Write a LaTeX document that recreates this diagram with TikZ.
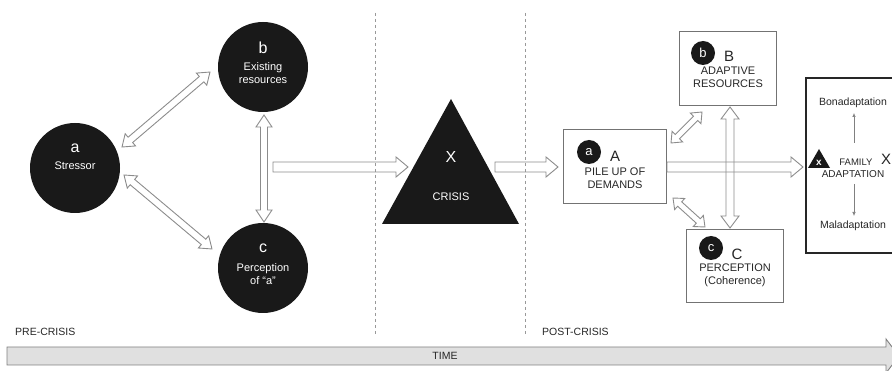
\documentclass[tikz,border=0pt]{standalone}
\usepackage{fontspec}
\setmainfont{Liberation Sans}
\usetikzlibrary{calc,arrows.meta}
\tikzset{
  bigcirc/.style={circle, fill=black!90, minimum size=90pt, inner sep=0pt},
  smallcirc/.style={circle, fill=black!90, minimum size=24pt, inner sep=0pt, text=white, font=\fontsize{13}{13}\selectfont},
  wtext/.style={text=white, font=\fontsize{11}{13}\selectfont, align=center, inner sep=0pt},
  btext/.style={text=black!85, font=\fontsize{11}{13}\selectfont, align=center, inner sep=0pt},
  smalltext/.style={text=black!85, font=\fontsize{10.5}{12}\selectfont, align=center, inner sep=0pt},
  bigletter/.style={font=\fontsize{16}{16}\selectfont, inner sep=0pt},
  midletter/.style={text=black!85, font=\fontsize{15}{15}\selectfont, inner sep=0pt},
  boxnode/.style={draw=black!55, line width=1pt, inner sep=0pt},
  blk/.style={draw=black!45, line width=0.9pt, line join=miter},
  dashline/.style={draw=black!40, line width=0.8pt, dash pattern=on 3.5pt off 2.5pt},
  thinarr/.style={draw=black!50, line width=0.6pt, -{Latex[length=4pt,width=3.5pt]}},
}
\newcommand\dblarr[5]{%
  \draw[blk] let \p1=(#1), \p2=(#2), \n1={atan2(\y2-\y1,\x2-\x1)}, \n2={veclen(\x2-\x1,\y2-\y1)} in
    [shift={(\p1)}, rotate=\n1]
    (0,0) -- (#5,#4) -- (#5,#3) -- ({\n2-#5},#3) -- ({\n2-#5},#4) -- (\n2,0)
    -- ({\n2-#5},-#4) -- ({\n2-#5},-#3) -- (#5,-#3) -- (#5,-#4) -- cycle;}
\newcommand\sglarr[5]{%
  \draw[blk] let \p1=(#1), \p2=(#2), \n1={atan2(\y2-\y1,\x2-\x1)}, \n2={veclen(\x2-\x1,\y2-\y1)} in
    [shift={(\p1)}, rotate=\n1]
    (0,#3) -- ({\n2-#5},#3) -- ({\n2-#5},#4) -- (\n2,0)
    -- ({\n2-#5},-#4) -- ({\n2-#5},-#3) -- (0,-#3) -- cycle;}
\begin{document}
\begin{tikzpicture}[x=1pt, y=-1pt]
\useasboundingbox (0,0) rectangle (892,371);

% dashed separators
\coordinate (d1t) at (375,13); \coordinate (d1b) at (375,335);
\coordinate (d2t) at (525,13); \coordinate (d2b) at (525,335);
\draw[dashline] (d1t) -- (d1b);
\draw[dashline] (d2t) -- (d2b);

% pre-crisis circles
\node[bigcirc] (a) at (75,168) {};
\node[wtext, bigletter] (al) at (75,148) {a};
\node[wtext] (at) at (75,166) {Stressor};
\node[bigcirc] (b) at (263,67) {};
\node[wtext, bigletter] (bl) at (263,48) {b};
\node[wtext] (bt) at (263,73) {Existing\\resources};
\node[bigcirc] (c) at (263,268) {};
\node[wtext, bigletter] (cl) at (263,248) {c};
\node[wtext] (ct) at (263,274) {Perception\\of “a”};

% crisis triangle
\coordinate (tA) at (451,99); \coordinate (tB) at (519,224); \coordinate (tC) at (382,224);
\fill[black!90] (tA) -- (tB) -- (tC) -- cycle;
\node[wtext, bigletter] (xl) at (451,157) {X};
\node[wtext] (crt) at (451,197) {CRISIS};

% post-crisis boxes
\node[boxnode, minimum width=103pt, minimum height=74pt] (A) at (614.5,167) {};
\node[smallcirc] (sa) at (589,152) {a};
\node[midletter] (Al) at (615,156) {A};
\node[btext] (At) at (615,178) {PILE UP OF\\DEMANDS};

\node[boxnode, minimum width=97pt, minimum height=74pt] (B) at (727.5,69) {};
\node[smallcirc] (sb) at (703,53) {b};
\node[midletter] (Bl) at (729,56) {B};
\node[btext] (Bt) at (728,77) {ADAPTIVE\\RESOURCES};

\node[boxnode, minimum width=97pt, minimum height=73pt] (C) at (734.5,266.5) {};
\node[smallcirc] (sc) at (711,248) {c};
\node[midletter] (Cl) at (737,254) {C};
\node[btext] (Ct) at (735,275) {PERCEPTION\\(Coherence)};

% family adaptation box
\node[draw=black!85, line width=2pt, minimum width=90pt, minimum height=175pt, inner sep=0pt] (F) at (851,165.5) {};
\coordinate (ft1) at (819,149); \coordinate (ft2) at (830,168); \coordinate (ft3) at (808,168);
\fill[black!90] (ft1) -- (ft2) -- (ft3) -- cycle;
\node[text=white, font=\fontsize{10}{10}\selectfont\bfseries, inner sep=0pt] (fx) at (819,162.5) {x};
\node[smalltext, font=\fontsize{9.5}{10}\selectfont] (fam) at (856,162) {FAMILY};
\node[midletter] (FX) at (886,159) {X};
\node[smalltext, font=\fontsize{10}{11}\selectfont] (ad) at (853,174) {ADAPTATION};
\node[smalltext] (bon) at (853,103) {Bonadaptation};
\node[smalltext] (mal) at (853,226) {Maladaptation};
\coordinate (u1) at (854,143); \coordinate (u2) at (854,113);
\coordinate (w1) at (854,184); \coordinate (w2) at (854,216);
\draw[thinarr] (u1) -- (u2);
\draw[thinarr] (w1) -- (w2);

% double arrows, pre-crisis
\coordinate (ab1) at (122,147); \coordinate (ab2) at (210,72);
\coordinate (ac1) at (124,175); \coordinate (ac2) at (212,249);
\coordinate (bc1) at (264,115); \coordinate (bc2) at (264,222);
\dblarr{ab1}{ab2}{3.5}{8}{11}
\dblarr{ac1}{ac2}{3.5}{8}{11}
\dblarr{bc1}{bc2}{3.5}{8}{12}

% main arrows
\coordinate (m1) at (273,167); \coordinate (m2) at (408,167);
\coordinate (m3) at (495,167); \coordinate (m4) at (558,167);
\coordinate (m5) at (667,167); \coordinate (m6) at (803,167);
\sglarr{m1}{m2}{5}{10}{12}
\sglarr{m3}{m4}{5}{10}{12}
\sglarr{m5}{m6}{5}{10}{12}

% double arrows, post-crisis
\coordinate (AB1) at (671,143); \coordinate (AB2) at (702,112);
\coordinate (AC1) at (673,198); \coordinate (AC2) at (705,227);
\coordinate (BC1) at (730,107); \coordinate (BC2) at (730,228);
\dblarr{AB1}{AB2}{3}{7.5}{9}
\dblarr{AC1}{AC2}{3}{7.5}{9}
\dblarr{BC1}{BC2}{4}{9}{12}

% phase labels
\node[smalltext, anchor=west] (pre) at (15,332) {PRE-CRISIS};
\node[smalltext, anchor=west] (post) at (542,332) {POST-CRISIS};

% time arrow
\coordinate (t0) at (7,356); \coordinate (t1) at (899,356);
\draw[draw=black!50, fill=black!12, line width=0.9pt]
  (7,347) -- (886,347) -- (886,339) -- (899,356) -- (886,373) -- (886,365) -- (7,365) -- cycle;
\node[smalltext] (time) at (445,356) {TIME};
\end{tikzpicture}
\end{document}
